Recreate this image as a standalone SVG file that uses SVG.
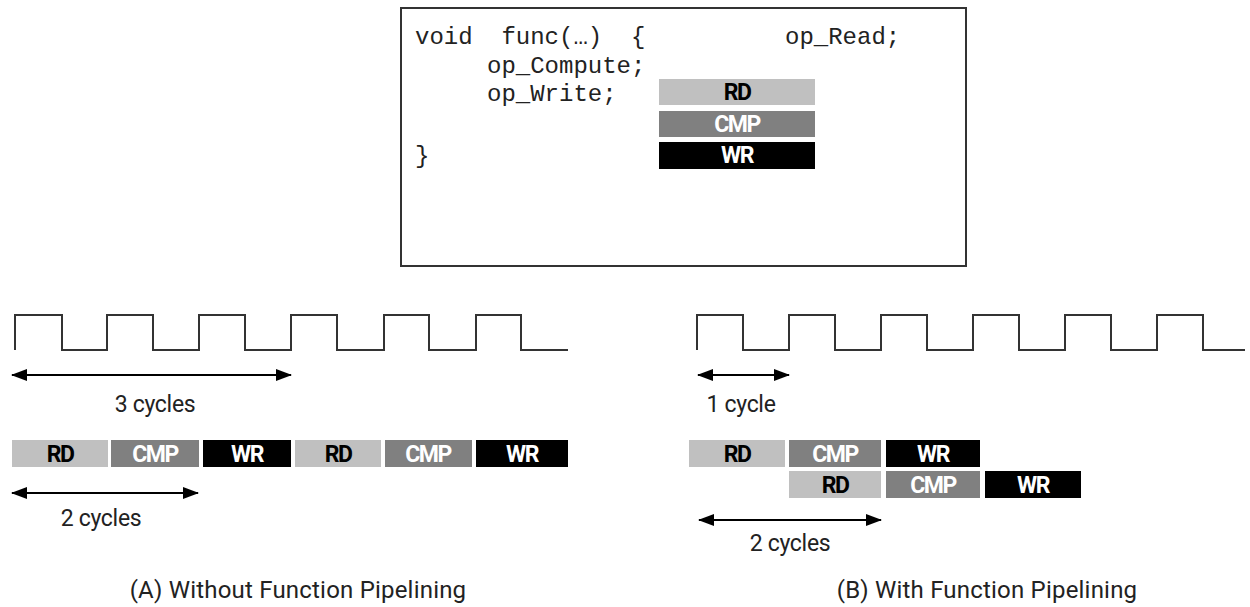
<svg xmlns="http://www.w3.org/2000/svg" width="1250" height="607" viewBox="0 0 1250 607">
<style>
.code{font-family:"Liberation Mono","Courier New",monospace;font-size:24px;fill:#222}
.lbl{font-family:Roboto,"Liberation Sans",sans-serif;font-size:23px;fill:#222;letter-spacing:-0.3px}
.cap{font-family:Roboto,"Liberation Sans",sans-serif;font-size:24px;fill:#222;letter-spacing:0.2px;text-anchor:middle}
.blk{font-family:Roboto,"Liberation Sans",sans-serif;font-size:23px;font-weight:bold;text-anchor:middle;letter-spacing:-1.5px}
.rd{fill:#c0c0c0}.cmp{fill:#808080}.wr{fill:#000}
.tk{fill:#000}.tw{fill:#fff}
.clk{fill:none;stroke:#333;stroke-width:2}
.arr{stroke:#000;stroke-width:2;fill:none;marker-start:url(#ah);marker-end:url(#ah)}
</style>
<defs>
<marker id="ah" viewBox="0 0 16 12" refX="15" refY="6" markerWidth="16" markerHeight="12" orient="auto-start-reverse" markerUnits="userSpaceOnUse">
<path d="M0,0 L16,6 L0,12 z" fill="#000"/>
</marker>
</defs>
<rect width="1250" height="607" fill="#fff"/>

<g id="codebox">
<rect x="401" y="8" width="565" height="258" fill="#fff" stroke="#333" stroke-width="2"/>
<text class="code" x="415" y="44" xml:space="preserve">void  func(…)  {</text>
<text class="code" x="785" y="44">op_Read;</text>
<text class="code" x="487" y="73">op_Compute;</text>
<text class="code" x="487" y="101">op_Write;</text>
<text class="code" x="415" y="163">}</text>
<rect class="rd" x="659" y="79" width="156" height="26"/>
<text class="blk tk" x="737" y="100">RD</text>
<rect class="cmp" x="659" y="111" width="156" height="26"/>
<text class="blk tw" x="737" y="132">CMP</text>
<rect class="wr" x="659" y="142" width="156" height="27"/>
<text class="blk tw" x="737" y="163">WR</text>
</g>

<g id="clockA">
<path class="clk" d="M15,350 V315 H62 V350 H107 V315 H153 V350 H199 V315 H245 V350 H291 V315 H337 V350 H384 V315 H429 V350 H476 V315 H521 V350 H568"/>
</g>
<g id="clockB">
<path class="clk" d="M697,350 V315 H743 V350 H789 V315 H835 V350 H881 V315 H927 V350 H973 V315 H1019 V350 H1065 V315 H1111 V350 H1157 V315 H1203 V350 H1245"/>
</g>

<g id="connectors">
<line class="arr" x1="12" y1="375" x2="291" y2="375"/>
<line class="arr" x1="12" y1="493" x2="198" y2="493"/>
<line class="arr" x1="698" y1="375" x2="789" y2="375"/>
<line class="arr" x1="699" y1="520" x2="881" y2="520"/>
</g>

<g id="labels">
<text class="lbl" x="155" y="412" text-anchor="middle">3 cycles</text>
<text class="lbl" x="101" y="526" text-anchor="middle">2 cycles</text>
<text class="lbl" x="741" y="412" text-anchor="middle">1 cycle</text>
<text class="lbl" x="790" y="551" text-anchor="middle">2 cycles</text>
<text class="cap" x="298" y="598">(A) Without Function Pipelining</text>
<text class="cap" x="987" y="598">(B) With Function Pipelining</text>
</g>

<g id="pipeA">
<rect class="rd" x="12" y="440" width="96" height="27"/><text class="blk tk" x="60" y="462">RD</text>
<rect class="cmp" x="111" y="440" width="88" height="27"/><text class="blk tw" x="155" y="462">CMP</text>
<rect class="wr" x="203" y="440" width="88" height="27"/><text class="blk tw" x="247" y="462">WR</text>
<rect class="rd" x="295" y="440" width="86" height="27"/><text class="blk tk" x="338" y="462">RD</text>
<rect class="cmp" x="385" y="440" width="87" height="27"/><text class="blk tw" x="428" y="462">CMP</text>
<rect class="wr" x="476" y="440" width="92" height="27"/><text class="blk tw" x="522" y="462">WR</text>
</g>

<g id="pipeB">
<rect class="rd" x="689" y="440" width="96" height="27"/><text class="blk tk" x="737" y="462">RD</text>
<rect class="cmp" x="789" y="440" width="92" height="27"/><text class="blk tw" x="835" y="462">CMP</text>
<rect class="wr" x="886" y="440" width="94" height="27"/><text class="blk tw" x="933" y="462">WR</text>
<rect class="rd" x="789" y="471" width="92" height="27"/><text class="blk tk" x="835" y="493">RD</text>
<rect class="cmp" x="886" y="471" width="94" height="27"/><text class="blk tw" x="933" y="493">CMP</text>
<rect class="wr" x="985" y="471" width="96" height="27"/><text class="blk tw" x="1033" y="493">WR</text>
</g>
</svg>
